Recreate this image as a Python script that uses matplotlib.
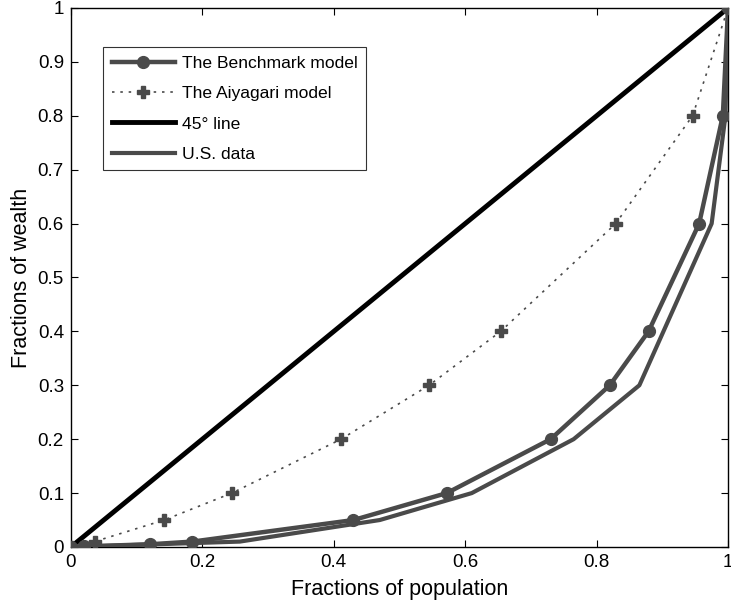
import matplotlib
matplotlib.use('Agg')
from matplotlib import pyplot as plt

# Benchmark model (population share, wealth share)
bench_x = [0, 0.02, 0.12, 0.185, 0.43, 0.572, 0.73, 0.82, 0.879, 0.956, 0.992, 1.0]
bench_y = [0, 0.001, 0.005, 0.01, 0.05, 0.1, 0.2, 0.3, 0.4, 0.6, 0.8, 1.0]

# Aiyagari model
aiya_x = [0, 0.036, 0.142, 0.245, 0.411, 0.545, 0.654, 0.829, 0.946, 1.0]
aiya_y = [0, 0.01, 0.05, 0.1, 0.2, 0.3, 0.4, 0.6, 0.8, 1.0]

# U.S. data
us_x = [0, 0.257, 0.47, 0.61, 0.765, 0.865, 0.975, 0.996, 1.0]
us_y = [0, 0.01, 0.05, 0.1, 0.2, 0.3, 0.6, 0.8, 1.0]

x_ticks = [0, 0.2, 0.4, 0.6, 0.8, 1]
x_labels = ['0', '0.2', '0.4', '0.6', '0.8', '1']
y_ticks = [0, 0.1, 0.2, 0.3, 0.4, 0.5, 0.6, 0.7, 0.8, 0.9, 1]
y_labels = ['0', '0.1', '0.2', '0.3', '0.4', '0.5', '0.6', '0.7', '0.8', '0.9', '1']

plt.rcParams['font.family'] = ['Liberation Sans', 'DejaVu Sans']
gray = '#4a4a4a'

fig = plt.figure(figsize=(7.31, 6.06), dpi=100)
ax = fig.add_axes([0.097, 0.0974, 0.899, 0.8894])

ax.plot(bench_x, bench_y, '-', color=gray, lw=3.2, marker='o', ms=8.5,
        label='The Benchmark model', zorder=4)
ax.plot(aiya_x, aiya_y, linestyle=(0, (1.5, 3.5)), color=gray, lw=1.2, marker='P', ms=9,
        label='The Aiyagari model', zorder=3)
ax.plot([0, 1], [0, 1], '-', color='black', lw=3.5, label='45\u00b0 line', zorder=2)
ax.plot(us_x, us_y, '-', color=gray, lw=3.0, label='U.S. data', zorder=3)

ax.set_xlim(0, 1)
ax.set_ylim(0, 1)
ax.set_xticks(x_ticks)
ax.set_xticklabels(x_labels)
ax.set_yticks(y_ticks)
ax.set_yticklabels(y_labels)
ax.tick_params(direction='in', top=True, right=True, labelsize=13.5, length=5, pad=5)
for s in ax.spines.values():
    s.set_linewidth(1.0)

ax.set_xlabel('Fractions of population', fontsize=15.5, labelpad=6)
ax.set_ylabel('Fractions of wealth', fontsize=15.5, labelpad=4)

leg = ax.legend(loc='upper left', bbox_to_anchor=(0.049, 0.927), fontsize=12.6,
                frameon=True, fancybox=False, handlelength=3.6, borderpad=0.5,
                labelspacing=0.85, handletextpad=0.4, borderaxespad=0)
leg.get_frame().set_edgecolor('black')
leg.get_frame().set_linewidth(0.8)

fig.savefig('out.png', dpi=100)
